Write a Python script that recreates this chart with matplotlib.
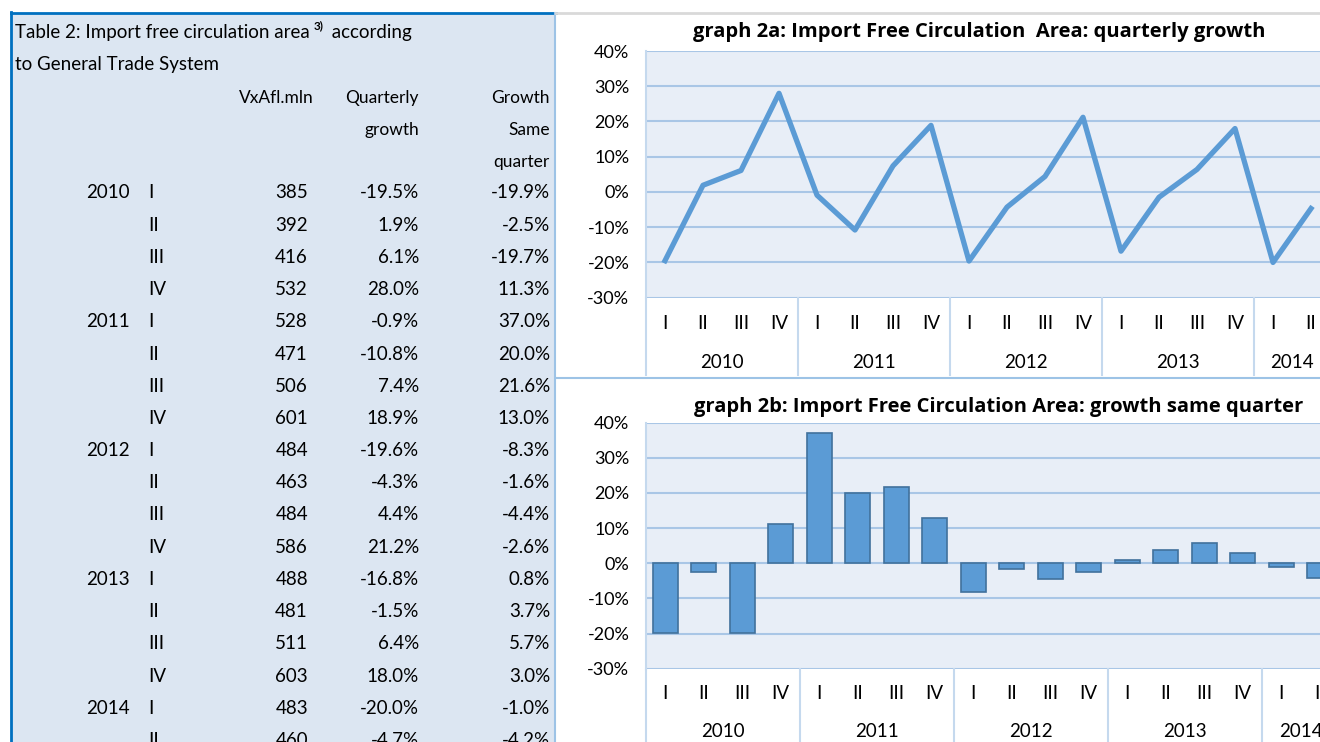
import matplotlib.pyplot as plt
import matplotlib.transforms as mtransforms
from matplotlib.patches import Rectangle

plt.rcParams['font.family'] = ['Lato', 'DejaVu Sans']

# data (table 2)
years = ['2010', '2011', '2012', '2013', '2014']
year_quarters = [4, 4, 4, 4, 2]
quarters = ['I', 'II', 'III', 'IV'] * 4 + ['I', 'II']
values = [385, 392, 416, 532, 528, 471, 506, 601, 484, 463, 484, 586,
          488, 481, 511, 603, 483, 460]
q_growth = [-19.5, 1.9, 6.1, 28.0, -0.9, -10.8, 7.4, 18.9, -19.6, -4.3,
            4.4, 21.2, -16.8, -1.5, 6.4, 18.0, -20.0, -4.7]
same_q_growth = [-19.9, -2.5, -19.7, 11.3, 37.0, 20.0, 21.6, 13.0, -8.3,
                 -1.6, -4.4, -2.6, 0.8, 3.7, 5.7, 3.0, -1.0, -4.2]

W, H = 1320, 742
fig = plt.figure(figsize=(13.2, 7.42), dpi=100)

# background layer in pixel coordinates
bg = fig.add_axes([0, 0, 1, 1])
bg.set_xlim(0, W)
bg.set_ylim(H, 0)
bg.axis('off')

bg.add_patch(Rectangle((11, 13), 544, 740, facecolor='#dce6f2', edgecolor='none'))
bg.plot([11, 11], [12, 742], color='#0070c0', lw=2)
bg.plot([11, 556], [13, 13], color='#0070c0', lw=2)
bg.plot([555, 555], [13, 742], color='#9dc3e6', lw=1.5)
bg.plot([556, W], [13, 13], color='#d9d9d9', lw=2)
bg.plot([556, W], [378, 378], color='#9dc3e6', lw=1.5)

# table
fs = 13.5
t1 = bg.text(15, 38, 'Table 2: Import free circulation area', fontsize=fs, va='baseline')
sup = bg.annotate('3)', xy=(1, 0), xycoords=t1, xytext=(3, 7), textcoords='offset points',
                  fontsize=8.5, fontweight='bold', va='bottom')
bg.annotate(' according', xy=(1, 38), xycoords=(sup, 'data'), xytext=(2, 0),
            textcoords='offset points', fontsize=fs, va='baseline')
bg.text(15, 70, 'to General Trade System', fontsize=fs, va='baseline')

hfs = 12.5
bg.text(314, 98, 'VxAfl.mln', fontsize=hfs, ha='right', va='center')
bg.text(419, 98, 'Quarterly', fontsize=hfs, ha='right', va='center')
bg.text(419, 130, 'growth', fontsize=hfs, ha='right', va='center')
bg.text(550, 98, 'Growth', fontsize=hfs, ha='right', va='center')
bg.text(550, 130, 'Same', fontsize=hfs, ha='right', va='center')
bg.text(550, 162, 'quarter', fontsize=hfs, ha='right', va='center')

row = 0
for yr, n in zip(years, year_quarters):
    for k in range(n):
        y = 193 + 32.2 * row
        if k == 0:
            bg.text(130, y, yr, fontsize=fs, ha='right', va='center')
        bg.text(148, y, quarters[row], fontsize=fs, ha='left', va='center')
        bg.text(308, y, f'{values[row]}', fontsize=fs, ha='right', va='center')
        bg.text(419, y, f'{q_growth[row]:.1f}%', fontsize=fs, ha='right', va='center')
        bg.text(550, y, f'{same_q_growth[row]:.1f}%', fontsize=fs, ha='right', va='center')
        row += 1


def px_axes(left, top, right, bottom):
    return fig.add_axes([left / W, 1 - bottom / H, (right - left) / W, (bottom - top) / H])


grid_c = '#a9c6e6'
sep_c = '#c5d9ee'


def style_chart(ax, q_y, yr_y, sep_bottom):
    ax.set_facecolor('#e8eef7')
    ax.set_xlim(-0.5, len(quarters) - 0.5)
    ax.set_ylim(-30, 40)
    ax.set_yticks(range(-30, 41, 10))
    ax.set_yticklabels([f'{v}%' for v in range(-30, 41, 10)], fontsize=13)
    ax.set_xticks([])
    ax.tick_params(axis='y', length=0, pad=12)
    for s in ['top', 'right', 'bottom']:
        ax.spines[s].set_visible(False)
    ax.spines['left'].set_color(sep_c)
    ax.spines['left'].set_linewidth(1.5)
    ax.grid(axis='y', color=grid_c, lw=1.5)
    ax.set_axisbelow(True)
    trans = mtransforms.blended_transform_factory(ax.transData, ax.transAxes)
    for i, q in enumerate(quarters):
        ax.text(i, q_y, q, transform=trans, ha='center', va='center', fontsize=13.5, clip_on=False)
    start = 0
    for yr, n in zip(years, year_quarters):
        ax.text(start + (n - 1) / 2, yr_y, yr, transform=trans, ha='center', va='center',
                fontsize=13.5, clip_on=False)
        ax.plot([start - 0.5, start - 0.5], [0, sep_bottom], transform=trans, color=sep_c,
                lw=1.5, clip_on=False)
        start += n


x = list(range(len(quarters)))
title_font = ['Open Sans', 'DejaVu Sans']

# graph 2a
ax1 = px_axes(646, 51, 1330, 297.7)
style_chart(ax1, -0.103, -0.264, -0.315)
ax1.plot(x, q_growth, color='#5b9bd5', lw=3.8, zorder=3)
fig.text(979 / W, 1 - 32 / H, 'graph 2a: Import Free Circulation  Area: quarterly growth',
         ha='center', va='center', fontsize=14.5, fontweight='bold', family=title_font)

# graph 2b
ax2 = px_axes(646, 422.7, 1339, 668.7)
style_chart(ax2, -0.099, -0.257, -0.4)
ax2.bar(x, same_q_growth, width=0.64, color='#5b9bd5', edgecolor='#41719c', lw=1.2, zorder=3)
fig.text(999 / W, 1 - 407 / H, 'graph 2b: Import Free Circulation Area: growth same quarter',
         ha='center', va='center', fontsize=14.5, fontweight='bold', family=title_font)

fig.savefig('out.png', dpi=100)
